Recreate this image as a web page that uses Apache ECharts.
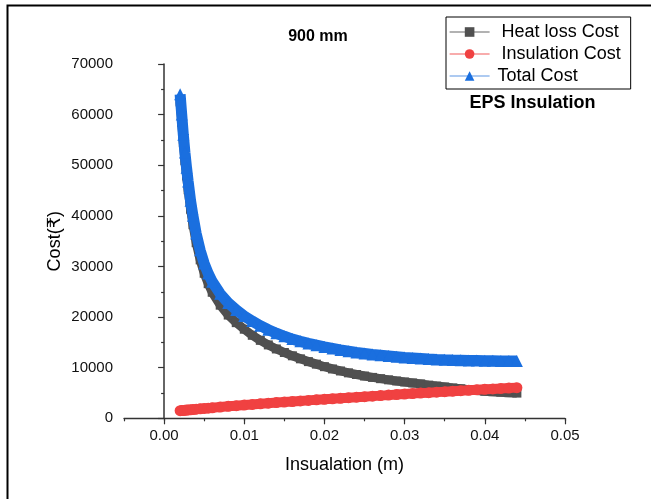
<!DOCTYPE html>
<html>
<head>
<meta charset="utf-8">
<script src="https://cdn.jsdelivr.net/npm/echarts@6/dist/echarts.min.js"></script>
<style>
  html, body { margin: 0; padding: 0; background: #fff; }
  #chart { width: 651px; height: 499px; }
</style>
</head>
<body>
<div id="chart"></div>
<script>
// Insulation thickness (m)
const insulation = [
  0.0020, 0.0022, 0.0024, 0.0026, 0.0028, 0.0030, 0.0033, 0.0036, 0.0040, 0.0045,
  0.0050, 0.0055, 0.0060, 0.0070, 0.0080, 0.0090, 0.0100, 0.0110, 0.0120, 0.0130,
  0.0140, 0.0150, 0.0160, 0.0170, 0.0180, 0.0190, 0.0200, 0.0210, 0.0220, 0.0230,
  0.0240, 0.0250, 0.0260, 0.0270, 0.0280, 0.0290, 0.0300, 0.0310, 0.0320, 0.0330,
  0.0340, 0.0350, 0.0360, 0.0370, 0.0380, 0.0390, 0.0400, 0.0410, 0.0420, 0.0430,
  0.0440
];

// Heat loss cost (₹)
const heatLossCost = [
  62500, 58450, 54400, 50900, 47900, 45150, 41300, 38250, 34700, 31300,
  28650, 26600, 24900, 22350, 20400, 18900, 17600, 16400, 15400, 14500,
  13700, 13000, 12350, 11750, 11200, 10700, 10200, 9750, 9350, 8980,
  8650, 8350, 8080, 7830, 7600, 7380, 7180, 6990, 6800, 6560,
  6370, 6190, 6000, 5830, 5660, 5500, 5350, 5250, 5150, 5060,
  4980
];

// Insulation cost (₹)
const insulationCost = [
  1500, 1530, 1560, 1590, 1620, 1650, 1690, 1730, 1800, 1870,
  1940, 2010, 2080, 2220, 2360, 2490, 2620, 2740, 2860, 2980,
  3100, 3210, 3320, 3430, 3540, 3650, 3750, 3860, 3960, 4070,
  4170, 4280, 4380, 4480, 4580, 4680, 4780, 4880, 4980, 5070,
  5170, 5260, 5360, 5450, 5540, 5630, 5720, 5810, 5900, 5980,
  6060
];

// Total cost (₹)
const totalCost = [
  64000, 60000, 56000, 52500, 49500, 46800, 43000, 40000, 36500, 33200,
  30600, 28600, 27000, 24600, 22800, 21400, 20200, 19200, 18300, 17500,
  16800, 16200, 15650, 15200, 14800, 14450, 14100, 13800, 13500, 13250,
  13000, 12800, 12600, 12450, 12300, 12150, 12000, 11900, 11800, 11700,
  11620, 11550, 11500, 11470, 11440, 11410, 11380, 11360, 11340, 11320,
  11300
];

const xMajorTicks = [0, 0.01, 0.02, 0.03, 0.04, 0.05];
const seriesNames = ['Heat loss Cost', 'Insulation Cost', 'Total Cost'];
const chartTitle = '900 mm';
const materialLabel = 'EPS Insulation';
const xAxisName = 'Insualation (m)';
const yAxisName = 'Cost(₹)';

const FONT = "'Liberation Sans', Arial, 'DejaVu Sans', sans-serif";
const AXIS_COLOR = '#333';

const pairs = ys => insulation.map((x, i) => [x, ys[i]]);

const chart = echarts.init(document.getElementById('chart'), null, { renderer: 'canvas' });

const option = {
  animation: false,
  backgroundColor: '#fff',
  textStyle: { fontFamily: FONT },
  grid: { left: 124, right: 86, top: 64, bottom: 80.7, containLabel: false },
  legend: {
    orient: 'vertical',
    left: 446,
    top: 17,
    padding: [6, 10, 4, 3],
    itemGap: 4,
    itemWidth: 40,
    itemHeight: 12,
    borderColor: '#000',
    borderWidth: 1,
    selectedMode: false,
    textStyle: { fontFamily: FONT, fontSize: 18, color: '#000', padding: [0, 0, 0, 7] },
    lineStyle: { width: 1.2 },
    data: [
      { name: seriesNames[0], lineStyle: { color: '#666', width: 1.2 } },
      { name: seriesNames[1], lineStyle: { color: '#f25a5a', width: 1.2 } },
      { name: seriesNames[2], textStyle: { padding: [0, 0, 0, 3] }, lineStyle: { color: '#5d96e4', width: 1.2 } }
    ]
  },
  xAxis: [
    {
      type: 'value',
      min: -0.005,
      max: 0.05,
      interval: 0.005,
      axisLine: { show: true, lineStyle: { color: AXIS_COLOR, width: 1.3 } },
      axisTick: { show: true, length: 3, lineStyle: { color: AXIS_COLOR, width: 1.2 } },
      axisLabel: { show: false },
      splitLine: { show: false }
    },
    {
      type: 'value',
      min: -0.005,
      max: 0.05,
      interval: 0.005,
      position: 'bottom',
      axisLine: { show: false },
      axisTick: { show: true, length: 6, customValues: xMajorTicks, lineStyle: { color: AXIS_COLOR, width: 1.2 } },
      axisLabel: {
        show: true,
        customValues: xMajorTicks,
        margin: 10,
        fontSize: 15,
        color: '#111',
        fontFamily: FONT,
        formatter: v => v.toFixed(2)
      },
      splitLine: { show: false },
      name: xAxisName,
      nameLocation: 'middle',
      nameGap: 38,
      nameMoveOverlap: false,
      nameTextStyle: { fontSize: 18, color: '#000', fontFamily: FONT }
    }
  ],
  yAxis: {
    type: 'value',
    min: 0,
    max: 70000,
    interval: 10000,
    axisLine: { show: true, lineStyle: { color: AXIS_COLOR, width: 1.5 } },
    axisTick: { show: true, length: 6, lineStyle: { color: AXIS_COLOR, width: 1.2 } },
    minorTick: { show: true, splitNumber: 2, length: 3, lineStyle: { color: AXIS_COLOR, width: 1.2 } },
    axisLabel: { margin: 11, fontSize: 15, color: '#111', fontFamily: FONT, formatter: v => String(v) },
    splitLine: { show: false },
    minorSplitLine: { show: false },
    name: yAxisName,
    nameLocation: 'middle',
    nameGap: 60,
    nameMoveOverlap: false,
    nameTextStyle: { fontSize: 18, color: '#000', fontFamily: FONT }
  },
  series: [
    {
      name: seriesNames[0],
      type: 'line',
      xAxisIndex: 0,
      data: pairs(heatLossCost),
      symbol: 'rect',
      symbolSize: 9,
      showAllSymbol: true,
      itemStyle: { color: '#505050' },
      lineStyle: { color: '#505050', width: 9 },
      emphasis: { disabled: true },
      z: 2
    },
    {
      name: seriesNames[1],
      type: 'line',
      xAxisIndex: 0,
      data: pairs(insulationCost),
      symbol: 'circle',
      symbolSize: 11,
      showAllSymbol: true,
      itemStyle: { color: '#f04141' },
      lineStyle: { color: '#f04141', width: 10 },
      emphasis: { disabled: true },
      z: 3
    },
    {
      name: seriesNames[2],
      type: 'line',
      xAxisIndex: 0,
      data: pairs(totalCost),
      symbol: 'triangle',
      symbolSize: 12,
      showAllSymbol: true,
      itemStyle: { color: '#1a6fdf' },
      lineStyle: { color: '#1a6fdf', width: 11 },
      emphasis: { disabled: true },
      z: 4
    }
  ],
  graphic: [
    {
      type: 'rect',
      silent: true,
      shape: { x: 7.5, y: 5.5, width: 800, height: 700 },
      style: { fill: 'none', stroke: '#000', lineWidth: 2 }
    },
    {
      type: 'text',
      silent: true,
      x: 318,
      y: 37,
      style: {
        text: chartTitle,
        fontFamily: FONT,
        fontSize: 16,
        fontWeight: 'bold',
        fill: '#000',
        align: 'center',
        verticalAlign: 'middle'
      }
    },
    {
      type: 'text',
      silent: true,
      x: 532.5,
      y: 103,
      style: {
        text: materialLabel,
        fontFamily: FONT,
        fontSize: 18,
        fontWeight: 'bold',
        fill: '#000',
        align: 'center',
        verticalAlign: 'middle'
      }
    }
  ]
};

chart.setOption(option);
</script>
</body>
</html>
